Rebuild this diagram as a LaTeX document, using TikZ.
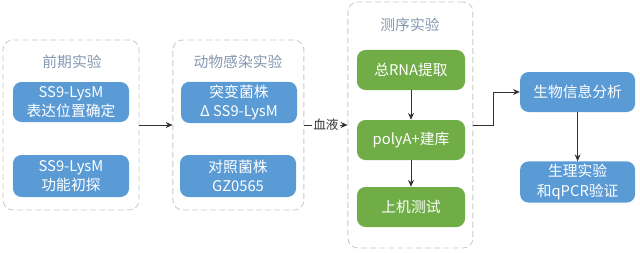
\documentclass[tikz,border=0pt]{standalone}
\usepackage{fontspec}
\newfontfamily\cjk{Noto Sans CJK SC}
\usetikzlibrary{positioning, arrows.meta}
\definecolor{shiyan}{HTML}{5B9BD5}
\definecolor{cexu}{HTML}{70AD47}
\definecolor{biaoti}{HTML}{8497B0}
\definecolor{kuang}{HTML}{CACACA}

\begin{document}
\begin{tikzpicture}[
  font=\cjk\fontsize{10.5}{14}\selectfont,
  kuangjia/.style={draw=kuang, line width=0.6pt, dash pattern=on 4.3pt off 2.2pt,
                   rounded corners=7pt},
  hezi/.style={rounded corners=6pt, align=center, text=white, inner sep=2pt,
               minimum width=2.9cm, minimum height=1cm},
  lan/.style={hezi, fill=shiyan},
  lv/.style={hezi, fill=cexu, minimum width=2.7cm},
  toubu/.style={text=biaoti},
  fl/.style={-{Stealth[length=1.7mm, width=1.5mm]}, black!80, line width=0.6pt},
]
\useasboundingbox (0,0) rectangle (16,-6.325);
% trois cadres en pointillés
\node[kuangjia, minimum width=3.4cm, minimum height=4.25cm] (qianqi) at (1.775,-3.125) {};
\node[kuangjia, minimum width=3.275cm, minimum height=4.25cm] (ganran) at (5.96,-3.125) {};
\node[kuangjia, minimum width=3.125cm, minimum height=6.15cm] (cexu) at (10.26,-3.125) {};
\node[toubu] (t1) at (1.8,-1.55) {前期实验};
\node[toubu] (t2) at (5.95,-1.55) {动物感染实验};
\node[toubu] (t3) at (10.25,-0.625) {测序实验};
% premiers essais
\node[lan] (weizhi) at (1.775,-2.55) {SS9-LysM\\表达位置确定};
\node[lan, minimum height=1.05cm] (gongneng) at (1.775,-4.4) {SS9-LysM\\功能初探};
% souches
\node[lan] (tubian) at (5.975,-2.56) {突变菌株\\Δ SS9-LysM};
\node[lan, minimum height=1.05cm] (duizhao) at (5.95,-4.4) {对照菌株\\GZ0565};
% séquençage
\node[lv] (rna) at (10.275,-1.75) {总RNA提取};
\node[lv] (jianku) at (10.275,-3.5) {polyA+建库};
\node[lv] (ceshi) at (10.275,-5.175) {上机测试};
\draw[fl] (rna) -- (jianku);
\draw[fl] (jianku) -- (ceshi);
% analyses
\node[lan, minimum width=2.875cm] (xinxi) at (14.44,-2.3) {生物信息分析};
\node[lan, minimum width=2.875cm] (yanzheng) at (14.44,-4.55) {生理实验\\和qPCR验证};
\draw[fl] (xinxi) -- (yanzheng);
% flux
\draw[fl] (qianqi) -- (ganran);
\draw[fl] (ganran) -- node[fill=white, inner sep=1pt, font=\cjk\fontsize{9}{10}\selectfont] {血液} (cexu);
\draw[fl] (cexu.east) -- ++(0.5,0) |- (xinxi.west);
\end{tikzpicture}
\end{document}
